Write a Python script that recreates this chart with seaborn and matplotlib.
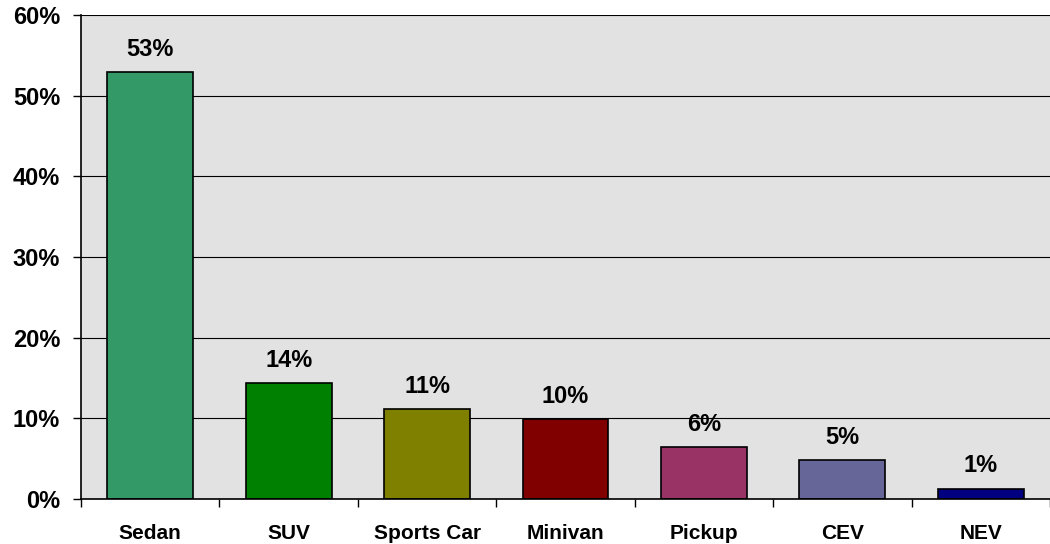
import matplotlib
matplotlib.use("Agg")
import matplotlib.pyplot as plt
import seaborn as sns
import pandas as pd
from matplotlib.ticker import FuncFormatter, FixedLocator

# Data
categories = ["Sedan", "SUV", "Sports Car", "Minivan", "Pickup", "CEV", "NEV"]
shares = [52.9, 14.4, 11.2, 9.9, 6.4, 4.8, 1.3]
bar_colors = ["#339966", "#008000", "#808000", "#800000", "#993366", "#666699", "#000080"]
y_ticks = [0, 10, 20, 30, 40, 50, 60]

df = pd.DataFrame({"category": categories, "share": shares})

sns.set_style("white")
plt.rcParams["font.family"] = ["Liberation Sans", "DejaVu Sans"]
plt.rcParams["font.weight"] = "bold"
plt.rcParams["text.color"] = "black"
plt.rcParams["xtick.color"] = "black"
plt.rcParams["ytick.color"] = "black"

fig = plt.figure(figsize=(10.5, 5.44), dpi=100)
ax = fig.add_axes([81 / 1050, 45 / 544, 969 / 1050, 484 / 544])
ax.set_facecolor("#e2e2e2")

sns.barplot(
    data=df,
    x="category",
    y="share",
    hue="category",
    palette=bar_colors,
    saturation=1,
    legend=False,
    width=0.62,
    edgecolor="black",
    linewidth=1.2,
    ax=ax,
)

# -----------------------------
# Value labels
# -----------------------------
for i, v in enumerate(shares):
    ax.annotate(
        f"{v:.0f}%",
        (i, v),
        xytext=(0, 8),
        textcoords="offset points",
        ha="center",
        va="bottom",
        fontsize=17,
        fontweight="bold",
        color="black",
    )

# -----------------------------
# Axes styling
# -----------------------------
ax.set_xlim(-0.5, len(categories) - 0.5)
ax.set_ylim(0, 60)
ax.set_yticks(y_ticks)
ax.yaxis.set_major_formatter(FuncFormatter(lambda v, _: f"{v:.0f}%"))
ax.grid(axis="y", color="black", linewidth=0.8)
ax.set_axisbelow(True)

ax.xaxis.set_minor_locator(FixedLocator([i - 0.5 for i in range(len(categories) + 1)]))
ax.tick_params(axis="x", which="major", length=0, pad=18, labelsize=15)
ax.tick_params(axis="x", which="minor", length=6, width=1, color="black", direction="out", bottom=True)
ax.tick_params(axis="y", length=6, width=1, color="black", direction="out", pad=9, labelsize=17, left=True)

for lab in ax.get_xticklabels() + ax.get_yticklabels():
    lab.set_fontweight("bold")

ax.set_xlabel("")
ax.set_ylabel("")

for side in ["top", "right"]:
    ax.spines[side].set_visible(False)
for side in ["left", "bottom"]:
    ax.spines[side].set_color("black")
    ax.spines[side].set_linewidth(1.2)

plt.savefig("out.png", dpi=100)
plt.close()
